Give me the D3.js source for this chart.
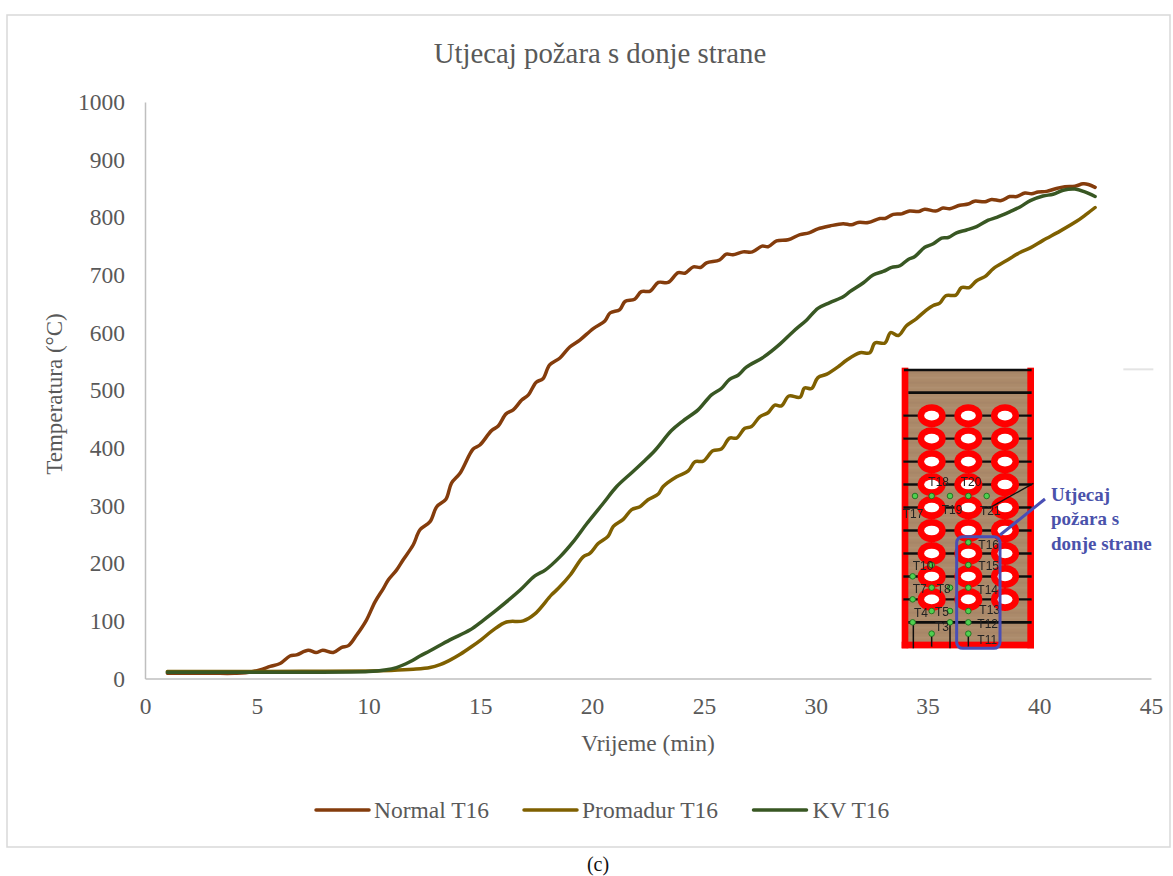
<!DOCTYPE html>
<html><head><meta charset="utf-8">
<script src="https://cdn.jsdelivr.net/npm/d3@7"></script>
<style>html,body{margin:0;padding:0;background:#fff}svg{display:block}text{font-family:"Liberation Serif",serif}</style>
</head><body><svg id="c" width="1173" height="876"></svg>
<script>
const xTicks=[0,5,10,15,20,25,30,35,40,45];
const yTicks=[0,100,200,300,400,500,600,700,800,900,1000];
const titleText="Utjecaj požara s donje strane", xTitle="Vrijeme (min)", yTitle="Temperatura (°C)", caption="(c)";
const seriesNames=["Normal T16","Promadur T16","KV T16"];
const seriesColors=["#843c0c","#7f6000","#385723"];

const normalT=[1,2,3,4,4.5,5.14,5.6,6.04,6.48,6.78,7.3,7.65,7.95,8.42,8.8,9.1,9.46,9.9,10.29,10.66,10.88,11.25,11.55,12,12.3,12.75,13.05,13.46,13.71,14.09,14.68,14.98,15.5,15.8,16.15,16.47,16.85,17.15,17.5,17.8,18.1,18.56,19,19.45,20.05,20.57,20.8,21.24,21.47,21.9,22.2,22.6,22.96,23.4,23.85,24.15,24.53,24.85,25.12,25.7,26,26.3,26.75,27.17,27.6,27.87,28.25,28.77,29.3,29.7,30.1,30.63,31.23,31.6,31.9,32.35,32.87,33.1,33.47,33.85,34.2,34.6,34.88,35.37,35.7,36,36.45,36.82,37.1,37.57,37.87,38.3,38.68,39,39.36,39.66,39.95,40.33,40.77,41.15,41.6,41.96,42.2,42.5];
const normalV=[9,9,9,9,10,15,21,26,39,41,49,45,49,45,54,57,75,101,133,156,171,188,206,232,258,272,298,311,339,356,398,405,430,438,459,466,483,492,514,520,544,556,575,587,607,620,634,640,654,658,671,672,687,687,704,703,714,713,721,726,736,735,740,740,750,749,759,761,770,773,780,785,789,787,791,791,798,798,805,806,811,810,814,811,816,815,821,823,828,827,831,829,836,836,842,841,844,845,850,853,854,858,857,852];

const promT=[1,4,7,10,11,12,12.75,13.2,13.6,14.1,14.6,15.06,15.57,16.17,16.92,17.44,18.18,18.48,19.03,19.6,19.9,20.27,20.72,20.95,21.39,21.77,22.14,22.5,22.96,23.18,23.78,24.3,24.6,24.97,25.4,25.78,26.15,26.46,26.83,27.13,27.5,27.87,28.17,28.47,28.8,29.3,29.5,29.82,30.1,30.5,31.05,31.38,31.98,32.42,32.65,33.1,33.35,33.7,34.06,34.5,34.95,35.26,35.55,35.82,36.27,36.52,36.87,37.2,37.57,37.95,38.54,39.14,39.6,40.17,40.93,41.67,42.1,42.5];
const promV=[12,12,12.5,13,14,16,19,24,31,42,55,68,84,98,100,112,145,156,180,211,217,234,247,264,276,293,298,310,320,333,350,360,376,377,395,398,417,417,434,437,454,461,474,473,490,488,504,503,522,528,542,552,565,565,582,582,600,595,612,624,639,647,651,664,665,678,678,690,697,711,725,739,747,760,776,793,805,817];

const kvT=[1,4,7,10,10.73,11.25,11.85,12.3,12.75,13.64,14.53,15.13,15.73,16.77,17.44,17.9,18.56,19.15,19.75,20.5,21.1,21.77,22.3,22.82,23.55,24.07,24.74,25.34,25.78,26.15,26.53,26.9,27.65,28.4,29,29.6,30.1,30.63,31.23,31.53,32.12,32.57,33.02,33.4,33.77,34.14,34.44,34.88,35.26,35.63,35.93,36.3,36.75,37.2,37.72,38.1,38.7,39.14,39.6,40.17,40.62,41.07,41.6,42.04,42.5];
const kvV=[11,11,11,12,14.7,19,29,39,48,67,84,101,119,153,178,188,211,237,268,304,333,357,376,396,430,447,466,492,503,519,526,540,557,580,602,622,642,652,662,671,686,700,706,713,716,727,732,748,754,764,765,773,778,784,795,800,810,818,829,837,840,847,849,844,836];

// inset sketch (schematic picture of the tested wall)
const holeCols=[0,1,2], holeRows=[0,1,2,3,4,5,6,7,8];
const insetDots=[[235,562],[235,630],[235,698],[235,768],[235,802],[235,836],[125,630],[68,664],[125,698],[180,698],[68,733],[125,768],[180,768],[68,802],[180,802],[125,836],[75,423],[125,423],[180,423],[235,423],[290,423]];
const insetLabels=[["T18",115,392],["T20",212,394],["T17",38,490],["T19",155,478],["T21",270,480],["T16",265,583],["T15",265,644],["T14",262,716],["T13",268,776],["T12",262,820],["T11",262,866],["T10",68,644],["T7",68,715],["T8",140,715],["T4",72,785],["T5",135,782],["T3",135,828]];
const calloutLines=["Utjecaj","požara s","donje strane"];

const svg=d3.select("#c");
svg.append("rect").attr("x",7).attr("y",15).attr("width",1163).attr("height",832).attr("fill","#fff").attr("stroke","#d9d9d9").attr("stroke-width",1.5);

const x=d3.scaleLinear().domain([0,45]).range([145,1151]);
const y=d3.scaleLinear().domain([0,1000]).range([678.5,102]);
const grey="#595959";

const gx=svg.append("g").attr("transform","translate(0,678.5)").call(d3.axisBottom(x).tickValues(xTicks).tickSize(0).tickPadding(19).tickFormat(d3.format("d")));
const gy=svg.append("g").attr("transform","translate(145,0)").call(d3.axisLeft(y).tickValues(yTicks).tickSize(0).tickPadding(20).tickFormat(d3.format("d")));
[gx,gy].forEach(g=>{g.select(".domain").attr("stroke","#bfbfbf").attr("stroke-width",1.5);
 g.selectAll("text").attr("fill",grey).style("font-family",'"Liberation Serif",serif').style("font-size","23.5px");});

svg.append("text").attr("x",600).attr("y",63).attr("text-anchor","middle").attr("fill",grey).style("font-size","28.8px").text(titleText);
svg.append("text").attr("x",648).attr("y",751).attr("text-anchor","middle").attr("fill",grey).style("font-size","23.5px").text(xTitle);
svg.append("text").attr("transform","translate(62,394) rotate(-90)").attr("text-anchor","middle").attr("fill",grey).style("font-size","23px").text(yTitle);
svg.append("text").attr("x",598).attr("y",871).attr("text-anchor","middle").attr("fill","#111").style("font-size","20px").text(caption);

// inset
const inset=svg.append("g");
const ix=z=>890+z/3, iy=z=>355+z/3;
const art=inset.append("g").attr("filter","url(#soft)");
const defs=svg.append("defs");
defs.append("filter").attr("id","soft").append("feGaussianBlur").attr("stdDeviation",0.5);
art.append("rect").attr("x",ix(45)).attr("y",iy(42)).attr("width",375/3).attr("height",830/3).attr("fill","#ab8a6b");
d3.range(0,56).forEach(i=>art.append("rect").attr("x",ix(50)).attr("y",iy(50+i*15)).attr("width",365/3).attr("height",2).attr("fill",i%2?"#b89a7c":"#a07f60").attr("opacity",0.3));
art.append("rect").attr("x",ix(35)).attr("y",iy(38)).attr("width",20/3).attr("height",842/3).attr("fill","#f00");
art.append("rect").attr("x",ix(412)).attr("y",iy(38)).attr("width",20/3).attr("height",842/3).attr("fill","#f00");
art.append("rect").attr("x",ix(35)).attr("y",iy(860)).attr("width",397/3).attr("height",20/3).attr("fill","#f00");
const rowY=r=>182+r*68.9, colX=c=>125+c*110;
[45,113,802].forEach(v=>art.append("line").attr("x1",ix(v===45?42:55)).attr("x2",ix(425)).attr("y1",iy(v)).attr("y2",iy(v)).attr("stroke","#111").attr("stroke-width",2.6));
holeRows.forEach(r=>art.append("line").attr("x1",ix(40)).attr("x2",ix(425)).attr("y1",iy(rowY(r))).attr("y2",iy(rowY(r))).attr("stroke","#111").attr("stroke-width",2.4));
holeRows.forEach(r=>holeCols.forEach(c=>{
 art.append("ellipse").attr("cx",ix(colX(c))).attr("cy",iy(rowY(r))).attr("rx",14).attr("ry",11.5).attr("fill","#f00");
 art.append("ellipse").attr("cx",ix(colX(c))).attr("cy",iy(rowY(r))).attr("rx",7.5).attr("ry",4.8).attr("fill","#fff");
}));
[[70,802,70,880],[180,802,180,880],[235,836,235,875],[125,836,125,875]].forEach(s=>art.append("line").attr("x1",ix(s[0])).attr("y1",iy(s[1])).attr("x2",ix(s[2])).attr("y2",iy(s[3])).attr("stroke","#111").attr("stroke-width",1.5));
art.append("line").attr("x1",ix(430)).attr("y1",iy(385)).attr("x2",ix(300)).attr("y2",iy(458)).attr("stroke","#111").attr("stroke-width",1.4);
art.selectAll("circle.d").data(insetDots).join("circle").attr("cx",d=>ix(d[0])).attr("cy",d=>iy(d[1])).attr("r",2.8).attr("fill","#4fd04f").attr("stroke","#1d6e1d").attr("stroke-width",0.9);
art.selectAll("text.l").data(insetLabels).join("text").attr("x",d=>ix(d[1])).attr("y",d=>iy(d[2])).attr("fill","#222").style("font-family",'"Liberation Sans",sans-serif').style("font-size","12px").text(d=>d[0]);
art.append("rect").attr("x",ix(200)).attr("y",iy(545)).attr("width",130/3).attr("height",335/3).attr("rx",6).attr("fill","none").attr("stroke","#4a4fb5").attr("stroke-width",3);
art.append("line").attr("x1",ix(330)).attr("y1",iy(540)).attr("x2",ix(465)).attr("y2",iy(432)).attr("stroke","#4a4fb5").attr("stroke-width",3);
inset.append("rect").attr("x",ix(700)).attr("y",iy(40)).attr("width",30).attr("height",2).attr("fill","#e4e4e4");
svg.selectAll("text.call").data(calloutLines).join("text").attr("x",1051).attr("y",(d,i)=>501+i*24.3).attr("fill","#4a52ab").style("font-weight","bold").style("font-size","19px").text(d=>d);

// lines
const line=d3.line().x(d=>x(d[0])).y(d=>y(d[1])).curve(d3.curveCatmullRom.alpha(0.5));
const toPts=(t,v)=>d3.zip(t,v);
[[normalT,normalV,0],[promT,promV,1],[kvT,kvV,2]].forEach(([t,v,i])=>{
 svg.append("path").datum(toPts(t,v)).attr("d",line).attr("fill","none").attr("stroke",seriesColors[i]).attr("stroke-width",3.5).attr("stroke-linecap","round").attr("stroke-linejoin","round");
});

// legend
const legendX=[316,524,753.5], legendT=[374,582,812.5];
seriesNames.forEach((n,i)=>{
 svg.append("line").attr("x1",legendX[i]).attr("x2",legendX[i]+53).attr("y1",810).attr("y2",810).attr("stroke",seriesColors[i]).attr("stroke-width",3.5).attr("stroke-linecap","round");
 svg.append("text").attr("x",legendT[i]).attr("y",818).attr("fill",grey).style("font-size","23.5px").text(n);
});
</script></body></html>
